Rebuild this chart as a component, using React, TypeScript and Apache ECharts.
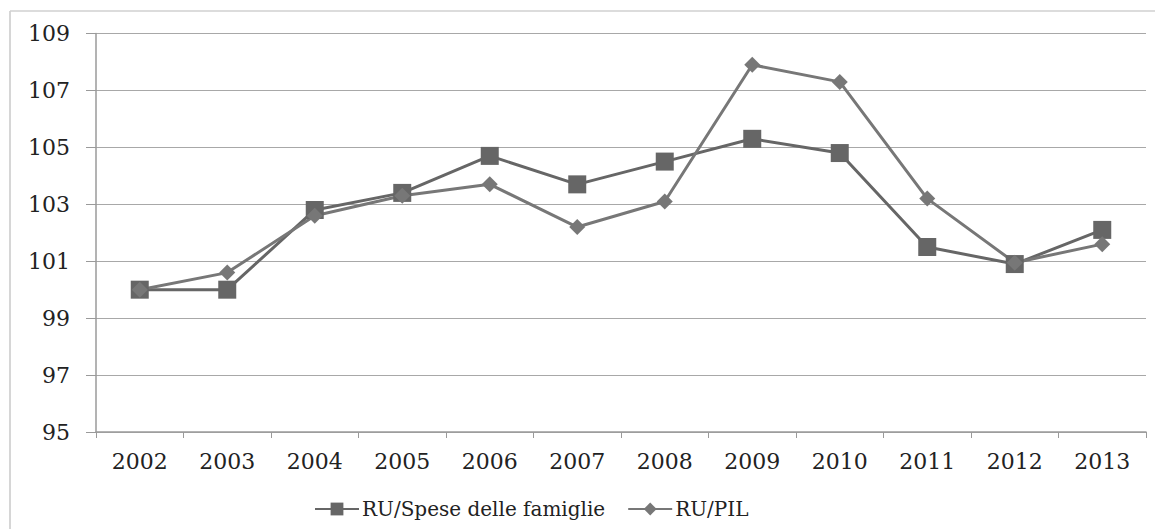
import React, { useEffect, useRef } from "react";
import * as echarts from "echarts";

const years = ["2002", "2003", "2004", "2005", "2006", "2007", "2008", "2009", "2010", "2011", "2012", "2013"];
const speseFamiglie = [100.0, 100.0, 102.8, 103.4, 104.7, 103.7, 104.5, 105.3, 104.8, 101.5, 100.9, 102.1];
const pil = [100.0, 100.6, 102.6, 103.3, 103.7, 102.2, 103.1, 107.9, 107.3, 103.2, 100.95, 101.6];
const seriesNames = ["RU/Spese delle famiglie", "RU/PIL"];

const FONT = "'DejaVu Serif', 'Liberation Serif', serif";

export default function App() {
  const ref = useRef<HTMLDivElement>(null);
  useEffect(() => {
    if (!ref.current) return;
    const chart = echarts.init(ref.current, null, { renderer: "svg" });
    chart.setOption({
      animation: false,
      backgroundColor: "#ffffff",
      graphic: [
        { type: "line", shape: { x1: 10, y1: 11, x2: 10, y2: 529 }, style: { stroke: "#c8c8c8", lineWidth: 1.5 } },
        { type: "line", shape: { x1: 10, y1: 11, x2: 1155, y2: 11 }, style: { stroke: "#d0d0d0", lineWidth: 1.5 } },
      ],
      grid: { left: 96, right: 13, top: 33.5, bottom: 97, containLabel: false },
      legend: {
        top: 494,
        left: 309,
        itemGap: 22,
        itemWidth: 44,
        itemHeight: 16,
        textStyle: { fontFamily: FONT, fontSize: 20, color: "#222", padding: [0, 0, 0, -2] },
        data: seriesNames,
      },
      xAxis: {
        type: "category",
        data: years,
        boundaryGap: true,
        axisLine: { lineStyle: { color: "#9a9a9a", width: 1.5 } },
        axisTick: { show: true, length: 6, lineStyle: { color: "#9a9a9a" } },
        axisLabel: { fontFamily: FONT, fontSize: 22, color: "#222", margin: 18 },
      },
      yAxis: {
        type: "value",
        min: 95,
        max: 109,
        interval: 2,
        axisLine: { show: true, lineStyle: { color: "#9a9a9a", width: 1.5 } },
        axisTick: { show: true, length: 10, lineStyle: { color: "#9a9a9a" } },
        splitLine: { lineStyle: { color: "#a8a8a8", width: 1.2 } },
        axisLabel: { fontFamily: FONT, fontSize: 22, color: "#222", margin: 26 },
      },
      series: [
        {
          name: seriesNames[0],
          type: "line",
          data: speseFamiglie,
          symbol: "rect",
          symbolSize: 18,
          lineStyle: { color: "#666666", width: 3 },
          itemStyle: { color: "#666666" },
        },
        {
          name: seriesNames[1],
          type: "line",
          data: pil,
          symbol: "diamond",
          symbolSize: 16,
          lineStyle: { color: "#777777", width: 3 },
          itemStyle: { color: "#777777" },
        },
      ],
    });
    return () => chart.dispose();
  }, []);
  return (
    <div
      ref={ref}
      style={{ position: "fixed", left: 0, top: 0, width: "1159px", height: "529px" }}
    />
  );
}
